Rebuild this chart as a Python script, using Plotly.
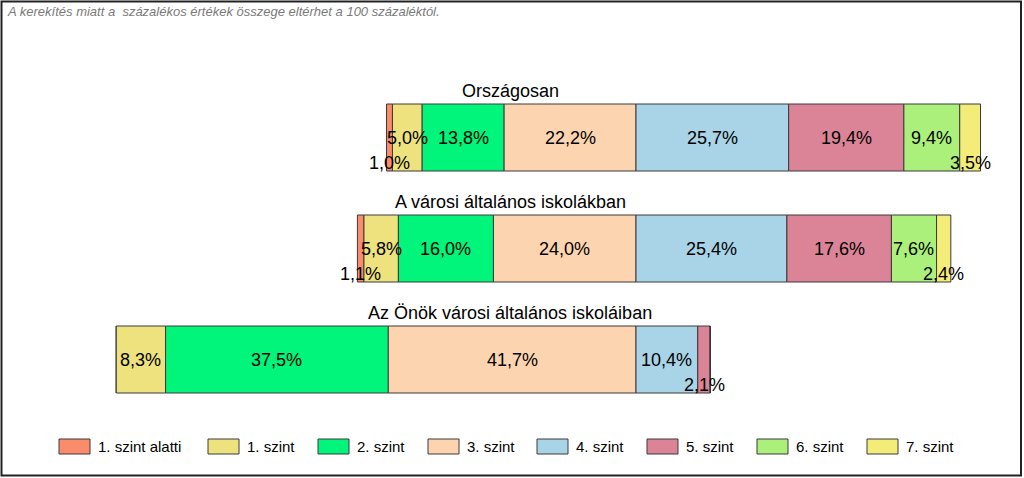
import plotly.graph_objects as go

levels = ["1. szint alatti", "1. szint", "2. szint", "3. szint",
          "4. szint", "5. szint", "6. szint", "7. szint"]
colors = ["#FA8C6C", "#EDE27E", "#00F57A", "#FDD4B0",
          "#A9D3E6", "#DB8497", "#ACF07C", "#F3EC78"]
groups = ["Országosan", "A városi általános iskolákban",
          "Az Önök városi általános iskoláiban"]

orszagosan = [1.0, 5.0, 13.8, 22.2, 25.7, 19.4, 9.4, 3.5]
varosi = [1.1, 5.8, 16.0, 24.0, 25.4, 17.6, 7.6, 2.4]
onok = [0.0, 8.3, 37.5, 41.7, 10.4, 2.1, 0.0, 0.0]
rows = [orszagosan, varosi, onok]

note = "A kerekítés miatt a  százalékos értékek összege eltérhet a 100 százaléktól."

W, H = 1024, 478
center_px = 636
px_per = 5.94
row_px = [137.5, 248.5, 359.5]
row_step = 111.0
bar_h = 67.0

xr = [-center_px / px_per, (W - center_px) / px_per]
ytop = -row_px[0] / row_step
ybot = (H - row_px[0]) / row_step

font = "Liberation Sans, Arial, sans-serif"

fig = go.Figure()
annotations = []

# compute bases: levels 0-3 to the left of zero, 4-7 to the right
bases = []
for r in rows:
    left = sum(r[:4])
    b = []
    acc = -left
    for v in r:
        b.append(acc)
        acc += v
    bases.append(b)

for li, name in enumerate(levels):
    xs = [rows[ri][li] for ri in range(3)]
    bs = [bases[ri][li] for ri in range(3)]
    fig.add_trace(go.Bar(
        y=[0, 1, 2], x=xs, base=bs, orientation="h", name=name,
        width=bar_h / row_step,
        marker=dict(color=colors[li], line=dict(color="#3a3a3a", width=1)),
        showlegend=False, hoverinfo="skip"))
    for ri in range(3):
        v = xs[ri]
        if v <= 0:
            continue
        annotations.append(dict(
            x=bs[ri] + v / 2, y=ri, xref="x", yref="y",
            text=f"{v:.1f}%".replace(".", ","), showarrow=False,
            yshift=-25 if v < 4 else 0,
            font=dict(family=font, size=18, color="#000000")))

# group titles
for ri, g in enumerate(groups):
    annotations.append(dict(
        x=510 / W, xref="paper", y=ri - 47 / row_step, yref="y",
        text=g, showarrow=False,
        font=dict(family=font, size=18, color="#000000")))

# note
annotations.append(dict(
    x=5 / W, y=1 - 12 / H, xref="paper", yref="paper", xanchor="left",
    yanchor="middle", text=f"<i>{note}</i>", showarrow=False,
    font=dict(family=font, size=13, color="#7a7a7a")))

# manual legend
shapes = []
leg_x = [59, 208, 318, 428, 537, 647, 757, 867]
leg_y = 446.5
for li, name in enumerate(levels):
    x0 = leg_x[li]
    shapes.append(dict(
        type="rect", xref="paper", yref="paper",
        x0=x0 / W, x1=(x0 + 31) / W,
        y0=1 - (leg_y - 7.5) / H, y1=1 - (leg_y + 7.5) / H,
        fillcolor=colors[li], line=dict(color="#3a3a3a", width=1)))
    annotations.append(dict(
        x=(x0 + 37) / W, y=1 - leg_y / H, xref="paper", yref="paper",
        xanchor="left", yanchor="middle", text=name, showarrow=False,
        font=dict(family=font, size=15, color="#000000")))

# outer frame
shapes.append(dict(
    type="rect", xref="paper", yref="paper",
    x0=1.5 / W, x1=1021 / W, y0=1 - 475.5 / H, y1=1 - 1.5 / H,
    line=dict(color="#222222", width=2), fillcolor="rgba(0,0,0,0)"))

fig.update_layout(
    width=W, height=H, margin=dict(l=0, r=0, t=0, b=0),
    paper_bgcolor="white", plot_bgcolor="white",
    barmode="overlay",
    xaxis=dict(range=xr, visible=False, fixedrange=True),
    yaxis=dict(range=[ybot, ytop], visible=False, fixedrange=True),
    annotations=annotations, shapes=shapes, showlegend=False)

fig.write_html("out.html")
